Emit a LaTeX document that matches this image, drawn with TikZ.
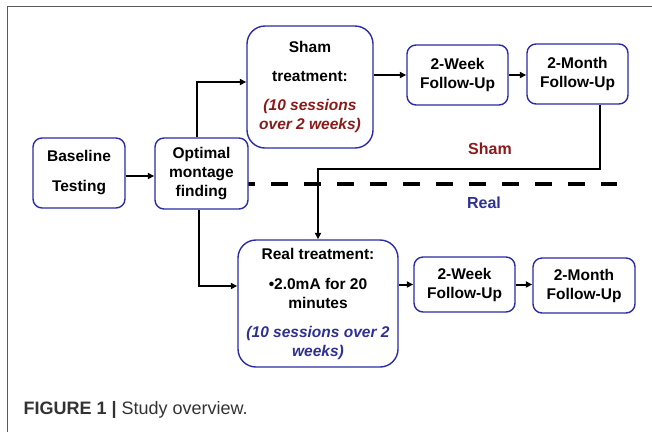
\documentclass[tikz,border=0pt]{standalone}
\usepackage{fontspec}
\setmainfont{Liberation Sans}
\usetikzlibrary{arrows.meta, positioning}
\usepackage{xcolor}
\definecolor{BoxBlue}{HTML}{2B2BA6}
\definecolor{ShamRed}{HTML}{8B1A1A}
\definecolor{RealBlue}{HTML}{2E3192}
\definecolor{FrameGray}{HTML}{5A5A5A}
\definecolor{CaptionGray}{HTML}{333333}
\newcommand{\shamnote}[1]{{\color{ShamRed}\itshape #1}}
\newcommand{\realnote}[1]{{\color{RealBlue}\itshape #1}}
\tikzset{
    % Box styles - rounded corners
    stepbox/.style={
        rectangle,
        rounded corners=9pt,
        draw=BoxBlue,
        fill=white,
        line width=1.4pt,
        align=center,
        inner sep=2pt,
        font=\bfseries\fontsize{15.5}{19}\selectfont
    },
    treatbox/.style={
        stepbox,
        rounded corners=18pt
    },
    followup/.style={
        stepbox,
        minimum width=101pt,
        minimum height=60pt
    },
    % Arrow styles
    arrow/.style={
        -{Triangle[length=6.5pt, width=6pt]},
        line width=2pt,
        draw=black
    },
    divider/.style={
        line width=4.5pt,
        draw=black,
        dash pattern=on 17pt off 16pt,
        dash phase=10pt
    },
    grouplabel/.style={
        font=\bfseries\fontsize{16}{19}\selectfont
    }
}
\begin{document}
\begin{tikzpicture}[x=1pt, y=-1pt]
    \useasboundingbox (0,0) rectangle (652,432);
    \draw[line width=1.3pt, draw=FrameGray] (652,6.5) -- (7.5,6.5) -- (7.5,432);

    % dashed split between the two arms
    \draw[divider] (248,184) -- (617,184);

    \node[stepbox, minimum width=92pt, minimum height=70pt] (base) at (79,173) {Baseline\\[11pt]Testing};
    \node[stepbox, minimum width=93pt, minimum height=71pt] (optimal) at (201.5,173.5) {Optimal\\montage\\finding};

    \node[treatbox, minimum width=126pt, minimum height=122pt] (sham) at (310,87)
        {Sham\\[10pt]treatment:\\[10pt]\shamnote{(10 sessions}\\\shamnote{over 2 weeks)}};
    \node[followup] (shamweek) at (457.5,75) {2-Week\\Follow-Up};
    \node[followup] (shammonth) at (577.5,74) {2-Month\\Follow-Up};

    \node[treatbox, minimum width=160pt, minimum height=127pt] (real) at (318,303.5)
        {Real treatment:\\[11pt]\textbullet2.0mA for 20\\minutes\\[10pt]\realnote{(10 sessions over 2}\\\realnote{weeks)}};
    \node[followup, minimum height=55pt] (realweek) at (464.5,284.5) {2-Week\\Follow-Up};
    \node[followup, minimum width=102pt, minimum height=55pt] (realmonth) at (584,285.5) {2-Month\\Follow-Up};

    \node[grouplabel, text=ShamRed] (shamlbl) at (490,149) {Sham};
    \node[grouplabel, text=RealBlue] (reallbl) at (484,203) {Real};

    \draw[arrow] ([yshift=-3pt]base.east) -- ([yshift=-3pt]base.east -| optimal.west);
    \draw[arrow] ([xshift=-4.5pt]optimal.north) |- ([yshift=5pt]sham.west);
    \draw[arrow] ([xshift=-2.5pt]optimal.south) |- ([yshift=17.5pt]real.west);

    \draw[arrow] (shamweek.west -| sham.east) -- (shamweek.west);
    \draw[arrow] (shamweek.east) -- (shamweek.east -| shammonth.west);
    \draw[arrow] ([xshift=22.5pt]shammonth.south) |- ([yshift=70pt]real.north) -- (real.north);

    \draw[arrow] (realweek.west -| real.east) -- (realweek.west);
    \draw[arrow] (realweek.east) -- (realweek.east -| realmonth.west);

    \node[anchor=west, text=CaptionGray, font=\fontsize{18}{21}\selectfont] (caption) at (20,410)
        {\textbf{FIGURE 1} \textbf{|} Study overview.};
\end{tikzpicture}
\end{document}
